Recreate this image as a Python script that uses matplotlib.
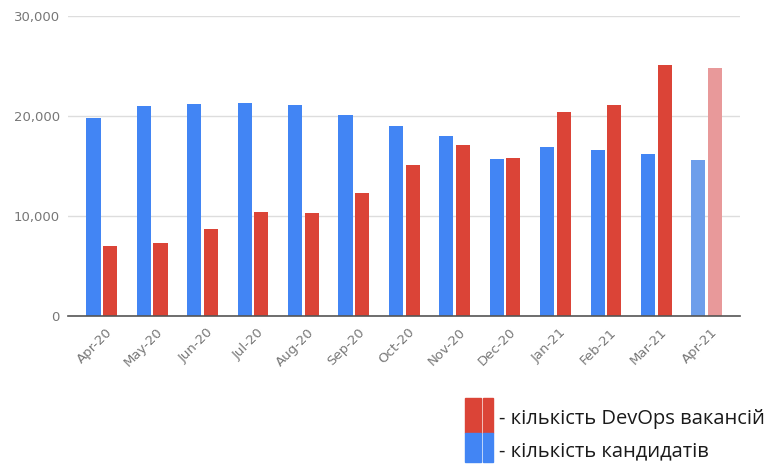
import numpy as np
import matplotlib.pyplot as plt
from matplotlib.patches import Rectangle

months = ["Apr-20", "May-20", "Jun-20", "Jul-20", "Aug-20", "Sep-20", "Oct-20",
          "Nov-20", "Dec-20", "Jan-21", "Feb-21", "Mar-21", "Apr-21"]
candidates = [19800, 21050, 21200, 21350, 21080, 20080, 19050,
              18000, 15680, 16880, 16580, 16200, 15580]
vacancies = [7050, 7330, 8750, 10400, 10280, 12330, 15150,
             17100, 15800, 20430, 21100, 25100, 24820]

blue = "#4285F4"
red = "#DB4437"
blue_light = "#6D9EEB"
red_light = "#E8999A"

fig = plt.figure(figsize=(7.68, 4.65), dpi=100)
ax = fig.add_axes([68/768, 1-316/465, 672/768, 300/465])

x = np.arange(len(months))
w = 0.28
off = 0.165
blue_cols = [blue]*(len(months)-1) + [blue_light]
red_cols = [red]*(len(months)-1) + [red_light]
ax.bar(x-off, candidates, w, color=blue_cols, zorder=3)
ax.bar(x+off, vacancies, w, color=red_cols, zorder=3)

ax.set_xlim(-0.67, 12.66)
ax.set_ylim(0, 30000)
ax.set_yticks([0, 10000, 20000, 30000])
ax.set_yticklabels(["0", "10,000", "20,000", "30,000"])
ax.grid(axis="y", color="#dddddd", linewidth=1, zorder=0)
for s in ["top", "right", "left"]:
    ax.spines[s].set_visible(False)
ax.spines["bottom"].set_color("#555555")
ax.spines["bottom"].set_linewidth(1.2)
ax.spines["bottom"].set_zorder(4)

ax.set_xticks(x + 0.08)
ax.set_xticklabels(months, rotation=45, ha="right", rotation_mode="anchor")
ax.tick_params(axis="both", length=0, labelcolor="#777777", labelsize=9.5)
ax.tick_params(axis="y", pad=6)
ax.tick_params(axis="x", pad=7)

# legend drawn by hand, as in the picture
fig.patches.append(Rectangle((465/768, 1-433/465), 16/768, 35/465,
                             transform=fig.transFigure, color=red))
fig.patches.append(Rectangle((483/768, 1-433/465), 10/768, 35/465,
                             transform=fig.transFigure, color=red))
fig.patches.append(Rectangle((465/768, 1-462/465), 16/768, 29/465,
                             transform=fig.transFigure, color=blue))
fig.patches.append(Rectangle((483/768, 1-462/465), 10/768, 29/465,
                             transform=fig.transFigure, color=blue))
fig.text(499/768, 1-419/465, "- кількість DevOps вакансій", fontsize=14.5,
         family="Open Sans", color="#1a1a1a", va="center")
fig.text(499/768, 1-451/465, "- кількість кандидатів", fontsize=14.5,
         family="Open Sans", color="#1a1a1a", va="center")

fig.savefig("out.png", dpi=100)
